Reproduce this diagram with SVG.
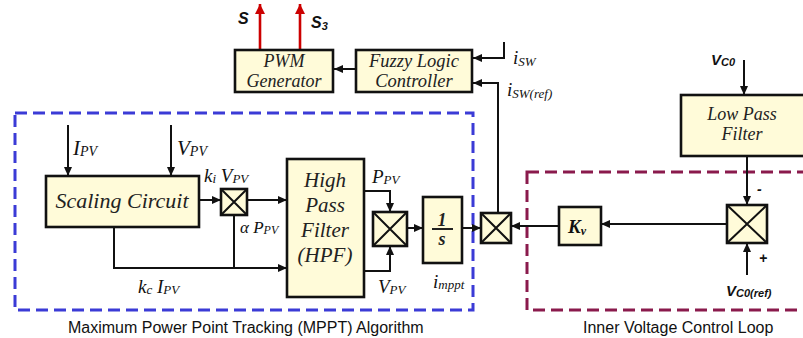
<svg xmlns="http://www.w3.org/2000/svg" width="803" height="338" viewBox="0 0 803 338">
  <style>
    .blk { fill: #fffbd9; stroke: #111; stroke-width: 2.6; }
    .mul { fill: #fffbd9; stroke: #111; stroke-width: 2.6; }
    .x { stroke: #111; stroke-width: 2; }
    .wire { fill: none; stroke: #111; stroke-width: 2; }
    .sig { fill: none; stroke: #111; stroke-width: 2; marker-end: url(#arr); }
    .out { fill: none; stroke: #cc0000; stroke-width: 2.6; marker-end: url(#arrRed); }
    .bt { font-family: "Liberation Serif", "Times New Roman", serif; font-style: italic; fill: #222; text-anchor: middle; }
    .lbl { font-family: "Liberation Serif", "Times New Roman", serif; font-style: italic; fill: #111; }
    .sb { font-family: "Liberation Sans", Arial, sans-serif; font-style: italic; font-weight: bold; fill: #111; }
    .cap { font-family: "Liberation Sans", Arial, sans-serif; fill: #111; font-size: 16px; }
  </style>
  <defs>
    <marker id="arr" markerUnits="userSpaceOnUse" markerWidth="10" markerHeight="10" refX="9" refY="5" orient="auto">
      <path d="M0,1 L9,5 L0,9 Z" fill="#111"/>
    </marker>
    <marker id="arrRed" markerUnits="userSpaceOnUse" markerWidth="12" markerHeight="12" refX="10" refY="6" orient="auto">
      <path d="M0,1 L10,6 L0,11 Z" fill="#cc0000"/>
    </marker>
  </defs>

  <!-- dashed group frames -->
  <rect id="mppt-frame" x="15" y="113" width="458" height="197" fill="none" stroke="#3b3bd6" stroke-width="3" stroke-dasharray="12 6"/>
  <rect id="voltage-frame" x="527" y="172" width="300" height="138" fill="none" stroke="#8a1a4c" stroke-width="3" stroke-dasharray="12 6"/>
  <text class="cap" x="68" y="333">Maximum Power Point Tracking (MPPT) Algorithm</text>
  <text class="cap" x="583" y="333">Inner Voltage Control Loop</text>

  <!-- connectors -->
  <g id="connectors">
    <path class="out" d="M260,50 V4"/>
    <path class="out" d="M300,50 V4"/>
    <path class="sig" d="M356,69 H334"/>
    <path class="sig" d="M504,42 V58 H473"/>
    <path class="sig" d="M498,213 V83 H473"/>
    <path class="sig" d="M68,125 V176"/>
    <path class="sig" d="M171,125 V176"/>
    <path class="sig" d="M199,200 H221"/>
    <path class="sig" d="M247,200 H287"/>
    <path class="sig" d="M114,227 V268 H287"/>
    <path class="wire" d="M234,215 V268"/>
    <path class="sig" d="M364,191 H390 V212"/>
    <path class="sig" d="M364,271 H390 V246"/>
    <path class="sig" d="M407,228 H423"/>
    <path class="sig" d="M462,228 H481"/>
    <path class="sig" d="M559,226 H511"/>
    <path class="sig" d="M727,224 H601"/>
    <path class="sig" d="M744,60 V95"/>
    <path class="sig" d="M747,156 V205"/>
    <path class="sig" d="M747,275 V243"/>
  </g>

  <!-- PWM generator -->
  <g id="pwm">
    <rect class="blk" x="235" y="50" width="98" height="42"/>
    <text class="bt" x="284" y="67" font-size="18">PWM</text>
    <text class="bt" x="284" y="87" font-size="18">Generator</text>
    <text class="sb" x="238" y="24" font-size="16">S</text>
    <text class="sb" x="311" y="28" font-size="16">S<tspan font-size="11" dy="2">3</tspan></text>
  </g>

  <!-- fuzzy logic controller -->
  <g id="flc">
    <rect class="blk" x="356" y="50" width="116" height="42"/>
    <text class="bt" x="414" y="67" font-size="18.5">Fuzzy Logic</text>
    <text class="bt" x="414" y="87" font-size="18.5">Controller</text>
    <text class="lbl" x="513" y="64" font-size="19">i<tspan font-size="13" dy="2">SW</tspan></text>
    <text class="lbl" x="507" y="96" font-size="19">i<tspan font-size="13" dy="2">SW(ref)</tspan></text>
  </g>

  <!-- scaling circuit -->
  <g id="scaling">
    <rect class="blk" x="46" y="176" width="153" height="51"/>
    <text class="bt" x="122" y="208" font-size="22">Scaling Circuit</text>
    <text class="lbl" x="73" y="155" font-size="21">I<tspan font-size="14" dy="1">PV</tspan></text>
    <text class="lbl" x="177" y="155" font-size="21">V<tspan font-size="14" dy="1">PV</tspan></text>
    <text class="lbl" x="204" y="182" font-size="19">k<tspan font-size="13" dy="1">i</tspan><tspan dy="-1"> V</tspan><tspan font-size="13" dy="1">PV</tspan></text>
    <text class="lbl" x="240" y="233" font-size="17">α P<tspan font-size="12" dy="1">PV</tspan></text>
    <text class="lbl" x="138" y="293" font-size="19">k<tspan font-size="13" dy="1">c</tspan><tspan dy="-1"> I</tspan><tspan font-size="13" dy="1">PV</tspan></text>
  </g>

  <!-- multiplier after scaling circuit -->
  <g id="mult1">
    <rect class="mul" x="221" y="189" width="26" height="26"/>
    <path class="x" d="M221,189 L247,215 M247,189 L221,215"/>
  </g>

  <!-- high pass filter -->
  <g id="hpf">
    <rect class="blk" x="287" y="159" width="77" height="138"/>
    <text class="bt" x="325" y="187" font-size="21">High</text>
    <text class="bt" x="325" y="212" font-size="21">Pass</text>
    <text class="bt" x="325" y="237" font-size="21">Filter</text>
    <text class="bt" x="325" y="262" font-size="21">(HPF)</text>
    <text class="lbl" x="372" y="183" font-size="19">P<tspan font-size="13" dy="1">PV</tspan></text>
    <text class="lbl" x="378" y="293" font-size="19">V<tspan font-size="13" dy="1">PV</tspan></text>
  </g>

  <!-- multiplier after HPF -->
  <g id="mult2">
    <rect class="mul" x="373" y="212" width="34" height="34"/>
    <path class="x" d="M373,212 L407,246 M407,212 L373,246"/>
  </g>

  <!-- integrator -->
  <g id="integrator">
    <rect class="blk" x="423" y="197" width="39" height="66"/>
    <text class="bt" x="442" y="226" font-size="18" font-weight="bold">1</text>
    <line x1="432" y1="229" x2="453" y2="229" stroke="#222" stroke-width="2"/>
    <text class="bt" x="442" y="245" font-size="18" font-weight="bold">s</text>
    <text class="lbl" x="433" y="288" font-size="19">i<tspan font-size="13" dy="1">mppt</tspan></text>
  </g>

  <!-- multiplier combining MPPT and voltage loop -->
  <g id="mult3">
    <rect class="mul" x="481" y="213" width="30" height="30"/>
    <path class="x" d="M481,213 L511,243 M511,213 L481,243"/>
  </g>

  <!-- voltage loop gain -->
  <g id="kv">
    <rect class="blk" x="559" y="207" width="42" height="38"/>
    <text class="lbl" x="568" y="233" font-size="19" font-weight="bold">K<tspan font-size="12" dy="2">v</tspan></text>
  </g>

  <!-- low pass filter -->
  <g id="lpf">
    <rect class="blk" x="681" y="95" width="124" height="61"/>
    <text class="bt" x="742" y="120" font-size="18">Low Pass</text>
    <text class="bt" x="742" y="140" font-size="18">Filter</text>
    <text class="sb" x="711" y="65" font-size="15">V<tspan font-size="11" dy="1">C0</tspan></text>
  </g>

  <!-- voltage error summing node -->
  <g id="mult4">
    <rect class="mul" x="727" y="205" width="40" height="38"/>
    <path class="x" d="M727,205 L767,243 M767,205 L727,243"/>
    <text class="sb" x="757" y="194" font-size="14">-</text>
    <text class="sb" x="759" y="263" font-size="14">+</text>
    <text class="sb" x="726" y="296" font-size="15">V<tspan font-size="11" dy="1">C0(ref)</tspan></text>
  </g>
</svg>
